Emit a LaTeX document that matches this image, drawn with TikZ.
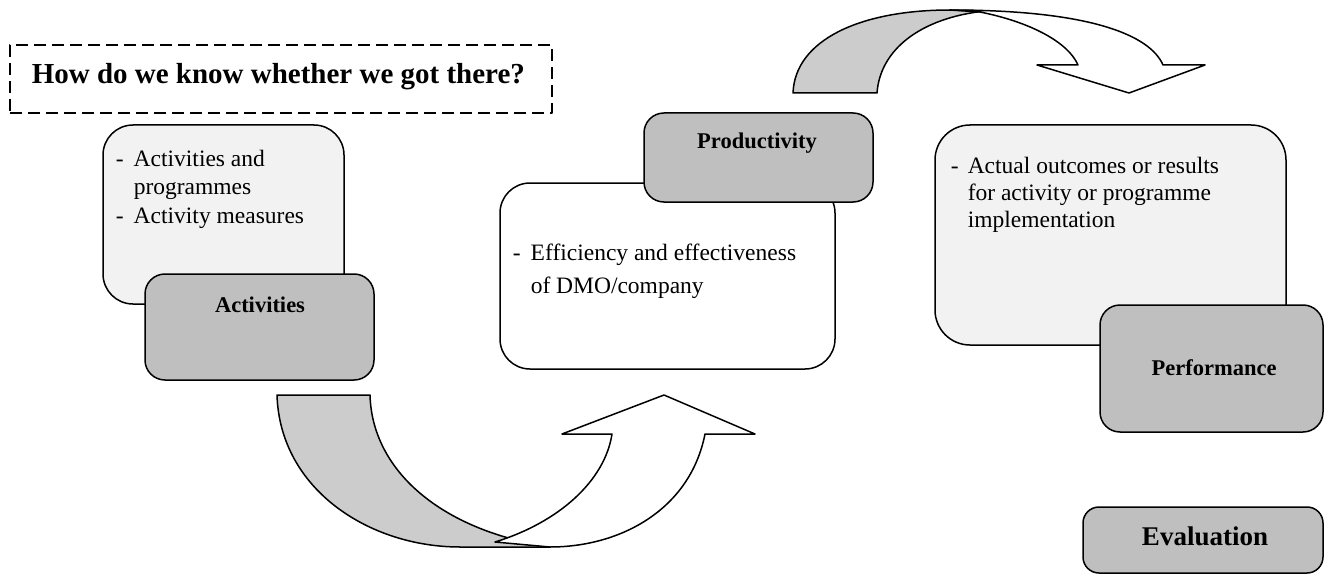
\documentclass[tikz,border=0pt]{standalone}
\usepackage{fontspec}
\setmainfont{Liberation Serif}
\usepackage{array}
\begin{document}
\begin{tikzpicture}[x=1pt,y=-1pt,
  line width=1.5pt, line join=round,
  outline/.style={draw=black, line width=1.5pt},
  listbox/.style={outline, fill=paleg, rounded corners=30pt, inner sep=0pt},
  plainbox/.style={outline, fill=white, rounded corners=30pt, inner sep=0pt},
  tagbox/.style={outline, fill=tagg, rounded corners=20pt, inner sep=0pt},
  body/.style={inner sep=0pt, font=\fontsize{23.5}{28.5}\selectfont},
  tagtext/.style={inner sep=0pt, font=\fontsize{22.5}{27}\selectfont\bfseries},
  bigtext/.style={inner sep=0pt, font=\fontsize{27}{32}\selectfont\bfseries},
  bandfill/.style={outline, fill=bandg},
  headfill/.style={outline, fill=white}]
\definecolor{paleg}{HTML}{F2F2F2}
\definecolor{tagg}{HTML}{BFBFBF}
\definecolor{bandg}{HTML}{CCCCCC}
\useasboundingbox (0,0) rectangle (1325,575);

% question frame
\node[draw, dash pattern=on 12pt off 6pt, line width=1.5pt, minimum width=542pt,
      minimum height=68pt, inner sep=0pt] (question) at (281,79) {};
\node[bigtext, font=\fontsize{29}{34}\selectfont\bfseries, anchor=base west] (qtext) at (31,84) {How do we know whether we got there?};

% Activities
\node[listbox, minimum width=241pt, minimum height=179pt] (actlist) at (223.5,214.5) {};
\node[body, anchor=base west] (acttext) at (115,166) {%
  \begin{tabular}[t]{@{}p{18pt}@{}l@{}}
  - & Activities and\\
    & programmes\\
  - & Activity measures
  \end{tabular}};
\node[tagbox, minimum width=229pt, minimum height=106pt] (acttag) at (259.5,327) {};
\node[tagtext, anchor=base] (acttagtext) at (260,312) {Activities};

% Productivity
\node[plainbox, minimum width=335pt, minimum height=186pt] (prodlist) at (667.5,276) {};
\node[body, anchor=base west, font=\fontsize{23.5}{33}\selectfont] (prodtext) at (512,260) {%
  \begin{tabular}[t]{@{}p{18pt}@{}l@{}}
  - & Efficiency and effectiveness\\
    & of DMO/company
  \end{tabular}};
\node[tagbox, minimum width=229pt, minimum height=89pt] (prodtag) at (758.5,157.5) {};
\node[tagtext, anchor=base] (prodtagtext) at (757,149) {Productivity};

% Performance
\node[listbox, rounded corners=35pt, minimum width=351pt, minimum height=220pt] (perflist) at (1110.5,235) {};
\node[body, anchor=base west, font=\fontsize{23.5}{27.5}\selectfont] (perftext) at (950,173) {%
  \begin{tabular}[t]{@{}p{17pt}@{}l@{}}
  - & Actual outcomes or results\\
    & for activity or programme\\
    & implementation
  \end{tabular}};
\node[tagbox, minimum width=223pt, minimum height=127pt] (perftag) at (1211.5,368.5) {};
\node[tagtext, anchor=base] (perftagtext) at (1214,375) {Performance};

% Evaluation
\node[tagbox, rounded corners=16pt, minimum width=240pt, minimum height=66pt] (evaltag) at (1203,540) {};
\node[bigtext, anchor=base] (evaltext) at (1205,545) {Evaluation};

% lower curved arrow: shaded band
\coordinate (lbA) at (277,395);
\coordinate (lbB) at (370,395);
\coordinate (lbC) at (550,547);
\coordinate (lbD) at (460,547);
\draw[bandfill] (lbA) -- (lbB) .. controls (372,470) and (440,530) .. (lbC)
  -- (lbD) .. controls (370,547) and (280,490) .. (lbA) -- cycle;
% lower curved arrow: white shaft and head
\coordinate (lhS) at (495,542);
\coordinate (lhI) at (612,434);
\coordinate (lhL) at (562,434);
\coordinate (lhT) at (664,395);
\coordinate (lhR) at (755,434);
\coordinate (lhO) at (705,434);
\draw[headfill] (lhS) .. controls (560,522) and (605,480) .. (lhI) -- (lhL) -- (lhT)
  -- (lhR) -- (lhO) .. controls (690,510) and (620,547) .. (lbC) -- cycle;

% upper curved arrow: shaded band
\coordinate (ubA) at (793,93);
\coordinate (ubB) at (877,93);
\coordinate (ubC) at (985,11);
\coordinate (ubD) at (950,10);
\draw[bandfill] (ubA) -- (ubB) .. controls (880,50) and (920,18) .. (ubC)
  -- (ubD) .. controls (860,10) and (795,40) .. (ubA) -- cycle;
% upper curved arrow: white shaft and head
\coordinate (uhS) at (980,12);
\coordinate (uhI) at (1078,65);
\coordinate (uhL) at (1037,65);
\coordinate (uhT) at (1129,93);
\coordinate (uhR) at (1205,65);
\coordinate (uhO) at (1163,65);
\draw[headfill] (uhS) .. controls (1030,22) and (1068,42) .. (uhI) -- (uhL) -- (uhT)
  -- (uhR) -- (uhO) .. controls (1150,35) and (1090,10) .. (ubD) -- cycle;
\end{tikzpicture}
\end{document}
